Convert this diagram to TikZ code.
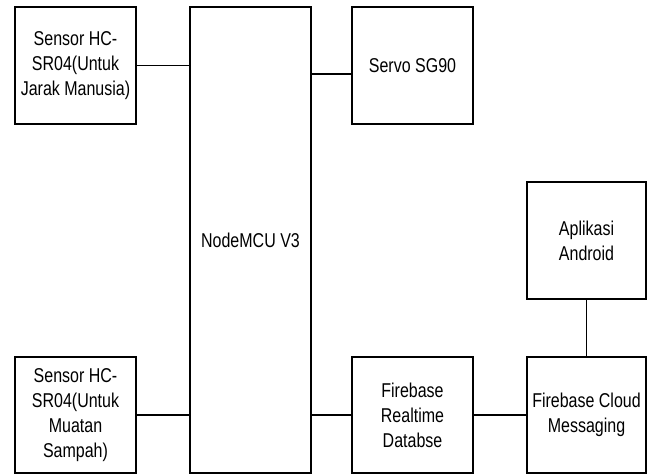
\documentclass[tikz,border=0pt]{standalone}
\usepackage{fontspec}
\newfontfamily\narrowfont[FakeStretch=0.8]{Liberation Sans}
\begin{document}
\begin{tikzpicture}[x=1pt,y=-1pt,
  blk/.style={draw=black,line width=1.2pt,fill=white,align=center,inner sep=0pt,
    font=\narrowfont\fontsize{20}{25}\selectfont},
  wire/.style={draw=black,line width=1.2pt}]
\useasboundingbox (0,0) rectangle (653,474);
\node[blk,minimum width=121pt,minimum height=117pt] (s1) at (75.5,65.5) {Sensor HC-\\SR04(Untuk\\Jarak Manusia)};
\node[blk,minimum width=121pt,minimum height=466pt] (mcu) at (250.5,240) {NodeMCU V3};
\node[blk,minimum width=121pt,minimum height=117pt] (servo) at (412.5,65.5) {Servo SG90};
\node[blk,minimum width=119pt,minimum height=117pt] (app) at (586.5,240.5) {Aplikasi\\Android};
\node[blk,minimum width=121pt,minimum height=116pt] (s2) at (75.5,415) {Sensor HC-\\SR04(Untuk\\Muatan\\Sampah)};
\node[blk,minimum width=121pt,minimum height=116pt] (rt) at (412.5,415) {Firebase\\Realtime\\Databse};
\node[blk,minimum width=119pt,minimum height=116pt] (fcm) at (586.5,415) {Firebase Cloud\\Messaging};
\draw[wire] (s1.east) -- (s1.east -| mcu.west);
\draw[wire] ([yshift=-8.5pt]servo.west) -- ([yshift=-8.5pt]servo.west -| mcu.east);
\draw[wire] (s2.east) -- (s2.east -| mcu.west);
\draw[wire] (rt.west) -- (rt.west -| mcu.east);
\draw[wire] (rt.east) -- (fcm.west);
\draw[wire] (app.south) -- (fcm.north);
\end{tikzpicture}
\end{document}
